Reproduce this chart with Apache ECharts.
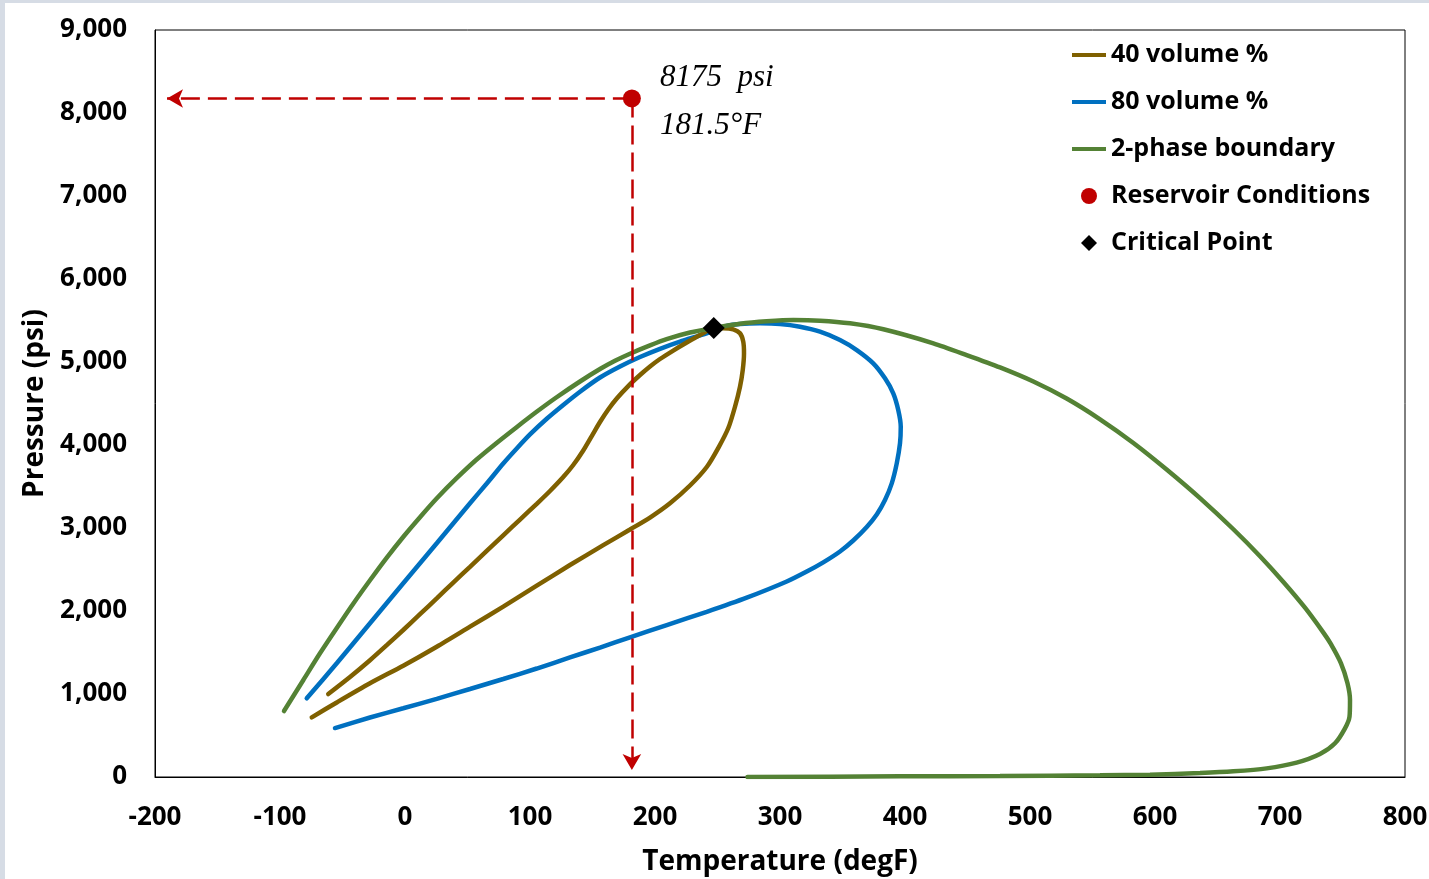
<!DOCTYPE html>
<html>
<head>
<meta charset="utf-8">
<script src="https://cdn.jsdelivr.net/npm/echarts@6/dist/echarts.min.js"></script>
<style>
  html, body { margin: 0; padding: 0; background: #d6dce5; }
  #chart { position: absolute; left: 5px; top: 3px; width: 1424px; height: 876px; background: #fff; }
</style>
</head>
<body>
<div id="chart"></div>
<script>
// 40 volume % quality line [degF, psi]
var vol40 = [
  [-74.6, 719], [-54.6, 898], [-28, 1129], [-1.4, 1341], [25.4, 1570], [52, 1811],
  [78.6, 2052], [105.4, 2305], [132, 2554], [158.6, 2793], [180, 2982], [196, 3126],
  [212, 3298], [228, 3512], [241.4, 3735], [251, 3975], [258.8, 4211], [264, 4461],
  [268, 4702], [270.2, 4904], [271.2, 5105], [270.6, 5245], [268, 5346], [262.6, 5394],
  [254.6, 5406], [247, 5406], [236, 5325], [225.4, 5235], [214.6, 5138], [204, 5036],
  [196, 4946], [188, 4843], [178.6, 4710], [169.4, 4560], [162.6, 4428], [156, 4277],
  [149.4, 4108], [142.6, 3934], [134.6, 3759], [126.6, 3614], [116, 3446], [105.4, 3291],
  [92, 3102], [78.6, 2912], [65.4, 2723], [52, 2532], [38.6, 2342], [25.4, 2152],
  [12, 1961], [-1.4, 1771], [-14.6, 1588], [-28, 1407], [-44, 1205], [-61.4, 1000]
];
// 80 volume % quality line
var vol80 = [
  [-56, 590], [-28, 717], [-1.4, 828], [25.4, 942], [52, 1060], [78.6, 1181],
  [105.4, 1307], [132, 1440], [156, 1560], [180, 1683], [209.4, 1831], [241.4, 1990],
  [273.4, 2160], [305.4, 2355], [321.4, 2475], [334.6, 2586], [348, 2717], [358.6, 2849],
  [369.4, 3012], [377.4, 3163], [384, 3337], [389.4, 3538], [393.4, 3779], [396, 4020],
  [396.6, 4220], [394.6, 4422], [390.6, 4623], [384, 4803], [374.6, 4984], [361.4, 5144],
  [348, 5265], [332, 5365], [316, 5425], [300, 5458], [284, 5466], [268, 5458],
  [257.4, 5434], [246.6, 5372], [236, 5320], [220, 5246], [204, 5159], [188, 5060],
  [172, 4946], [156, 4813], [140, 4642], [126.6, 4482], [113.4, 4316], [100, 4127],
  [89.4, 3958], [78.6, 3777], [65.4, 3536], [52, 3298], [25.4, 2816], [-1.4, 2334],
  [-28, 1852], [-54.6, 1370], [-78.6, 948]
];
// 2-phase envelope
var boundary = [
  [-96.8, 795], [-81.3, 1169], [-68, 1490], [-54.7, 1792], [-41.3, 2090], [-28, 2370],
  [-14.7, 2640], [-1.3, 2895], [12, 3130], [25.3, 3355], [41.3, 3600], [57.3, 3825],
  [73.3, 4025], [89.3, 4215], [105.3, 4400], [121.3, 4575], [140, 4765], [156, 4915],
  [168, 5015], [180, 5100], [196, 5200], [209.3, 5275], [228, 5355], [247, 5410],
  [268, 5460], [289.3, 5490], [310.7, 5506], [332, 5498], [356, 5466], [382.7, 5394],
  [422.7, 5225], [449.3, 5084], [476, 4935], [502.7, 4765], [529.3, 4560], [556, 4310],
  [582.7, 4025], [609.3, 3705], [636, 3360], [662.7, 2985], [684, 2660], [702.7, 2350],
  [720, 2040], [734.7, 1740], [740.4, 1610], [748.8, 1370], [754, 1129], [756, 928],
  [755.6, 726], [752, 586], [744, 406], [732, 277], [713.3, 173], [689.3, 104], [662.7, 68],
  [636, 48], [596, 28], [556, 20], [476, 12], [396, 8], [274, 0]
];
var reservoir = [[181.5, 8175]];
var criticalPoint = [[247, 5410]];

var lblFont = 'Open Sans';
var lineIcon = 'path://M0,0 L36,0 L36,4 L0,4 Z';
var diamondIcon = 'path://M8,0 L16,8 L8,16 L0,8 Z';
var chart = echarts.init(document.getElementById('chart'));

chart.setOption({
  animation: false,
  grid: {
    left: 150, right: 24, top: 27, bottom: 102,
    outerBoundsMode: 'none',
    show: true, borderColor: '#000', borderWidth: 1
  },
  legend: {
    orient: 'vertical',
    left: 1062, top: 32,
    itemWidth: 34, itemHeight: 16, itemGap: 17,
    textStyle: { fontFamily: lblFont, fontWeight: 'bold', fontSize: 25, color: '#000', lineHeight: 30 },
    data: [
      { name: '40 volume %', icon: lineIcon },
      { name: '80 volume %', icon: lineIcon },
      { name: '2-phase boundary', icon: lineIcon },
      { name: 'Reservoir Conditions', icon: 'circle', itemStyle: { color: '#c00000', opacity: 1 } },
      { name: 'Critical Point', icon: diamondIcon, itemStyle: { color: '#000', opacity: 1 } }
    ]
  },
  xAxis: {
    type: 'value', min: -200, max: 800, interval: 100,
    name: 'Temperature (degF)', nameLocation: 'middle', nameGap: 71,
    nameTextStyle: { fontFamily: lblFont, fontWeight: 'bold', fontSize: 28, color: '#000' },
    axisLine: { show: true, onZero: false, lineStyle: { color: '#000', width: 1 } },
    axisTick: { show: false },
    splitLine: { show: false },
    axisLabel: { margin: 28, fontFamily: lblFont, fontWeight: 'bold', fontSize: 26, color: '#000' }
  },
  yAxis: {
    type: 'value', min: 0, max: 9000, interval: 1000,
    name: 'Pressure (psi)', nameLocation: 'middle', nameGap: 106,
    nameTextStyle: { fontFamily: lblFont, fontWeight: 'bold', fontSize: 28, color: '#000' },
    axisLine: { show: true, onZero: false, lineStyle: { color: '#000', width: 1 } },
    axisTick: { show: false },
    splitLine: { show: false },
    axisLabel: {
      margin: 28, fontFamily: lblFont, fontWeight: 'bold', fontSize: 26, color: '#000',
      formatter: function (v) { return v.toLocaleString('en-US'); }
    }
  },
  series: [
    {
      name: '40 volume %', type: 'line', data: vol40, smooth: 0.25,
      symbol: 'none', lineStyle: { color: '#7f6000', width: 4.5, cap: 'round' },
      itemStyle: { color: '#7f6000' }, z: 3
    },
    {
      name: '80 volume %', type: 'line', data: vol80, smooth: 0.25,
      symbol: 'none', lineStyle: { color: '#0070c0', width: 4.5, cap: 'round' },
      itemStyle: { color: '#0070c0' }, z: 2
    },
    {
      name: '2-phase boundary', type: 'line', data: boundary, smooth: 0.25,
      symbol: 'none', lineStyle: { color: '#548235', width: 4.5, cap: 'round' },
      itemStyle: { color: '#548235' }, z: 4
    },
    {
      name: 'Reservoir Conditions', type: 'scatter', data: reservoir,
      symbol: 'circle', symbolSize: 18, itemStyle: { color: '#c00000', opacity: 1 }, z: 6,
      markLine: {
        silent: true, animation: false,
        symbol: ['none', 'arrow'], symbolSize: [14, 16],
        label: { show: false },
        lineStyle: { color: '#c00000', width: 2.5, type: [19, 8], opacity: 1 },
        itemStyle: { color: '#c00000', opacity: 1 },
        data: [
          [{ coord: [181.5, 8175] }, { coord: [-190.4, 8175] }],
          [{ coord: [181.5, 8175] }, { coord: [181.5, 84] }]
        ]
      }
    },
    {
      name: 'Critical Point', type: 'scatter', data: criticalPoint,
      symbol: 'diamond', symbolSize: 22, itemStyle: { color: '#000', opacity: 1 }, z: 7
    }
  ],
  graphic: [
    { type: 'text', left: 655, top: 59, style: { text: '8175  psi', font: 'italic 31px "Liberation Serif"', fill: '#000' } },
    { type: 'text', left: 655, top: 107, style: { text: '181.5°F', font: 'italic 31px "Liberation Serif"', fill: '#000' } }
  ]
});
</script>
</body>
</html>
